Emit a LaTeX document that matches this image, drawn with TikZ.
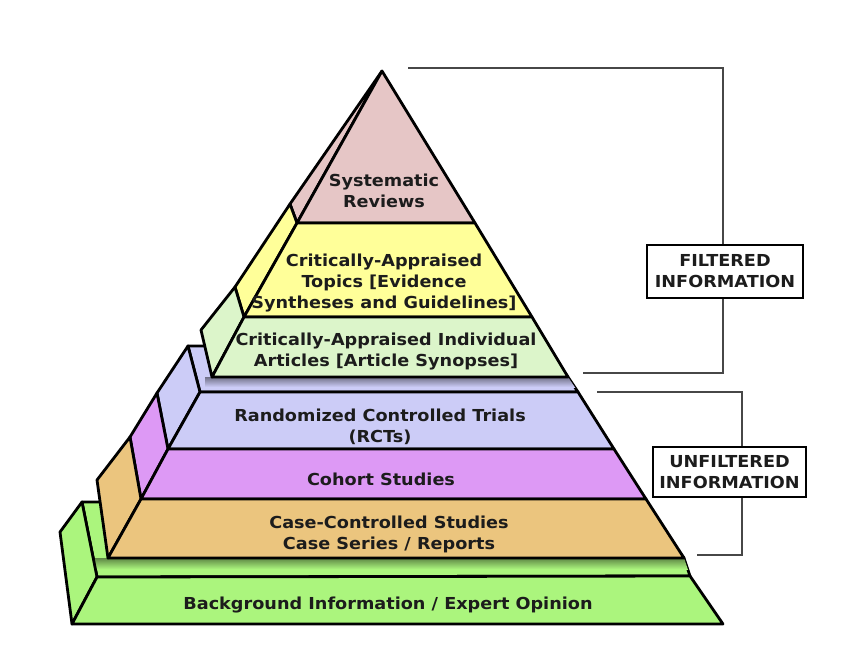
\documentclass[tikz,border=0pt]{standalone}
\usepackage{fontspec}
\newfontfamily\vfont{DejaVu Sans}[FakeStretch=1.07]
\definecolor{pinkc}{RGB}{230,198,198}
\definecolor{yelc}{RGB}{255,255,153}
\definecolor{ltgc}{RGB}{220,245,202}
\definecolor{lavc}{RGB}{204,204,247}
\definecolor{violc}{RGB}{221,153,245}
\definecolor{tanc}{RGB}{235,197,126}
\definecolor{bgc}{RGB}{171,245,125}
\definecolor{txtc}{RGB}{28,28,28}
\begin{document}
\begin{tikzpicture}[x=1pt,y=-1pt,
  face/.style={draw=black, line width=2.8pt, line join=round},
  lbl/.style={font=\vfont\bfseries\fontsize{16.5}{21}\selectfont, text=txtc, align=center, inner sep=0pt},
  tagbox/.style={draw=black, line width=2.8pt, fill=white, font=\vfont\bfseries\fontsize{16.5}{21}\selectfont, text=txtc, align=center, inner sep=0pt},
  brk/.style={draw=black!72, line width=1.8pt}]
\useasboundingbox (0,0) rectangle (865,672);
% ---------- coordinates ----------
% top tier
\coordinate (A) at (382,71);
\coordinate (TO1) at (290,204);
\coordinate (TF1) at (297,223);
\coordinate (TR1) at (475,223);
\coordinate (TO2) at (235,287);
\coordinate (TF2) at (244,317);
\coordinate (TR2) at (532,317);
\coordinate (TO3) at (201,330);
\coordinate (TF3) at (212,377);
\coordinate (TR3) at (568,377);
% middle tier
\coordinate (MB) at (188,346);
\coordinate (MBR) at (545,346);
\coordinate (MF1) at (200,392);
\coordinate (MR1) at (578,392);
\coordinate (MO1) at (157,393);
\coordinate (MF2) at (168,449);
\coordinate (MR2) at (614,449);
\coordinate (MO2) at (130,437);
\coordinate (MF3) at (141,499);
\coordinate (MR3) at (646,499);
\coordinate (MO3) at (97,480);
\coordinate (MF4) at (108,558);
\coordinate (MR4) at (684,558);
% bottom tier
\coordinate (BB) at (82,502);
\coordinate (BBR) at (640,502);
\coordinate (BF1) at (97,577);
\coordinate (BR1) at (690,576);
\coordinate (BO) at (60,532);
\coordinate (BF2) at (72,624);
\coordinate (BR2) at (723,624);
% ---------- bottom tier ----------
\filldraw[face, fill=bgc] (BB) -- (BF1) -- (BR1) -- (MR4) -- (BBR) -- cycle;
\begin{scope}
  \clip (BB) -- (BF1) -- (BR1) -- (MR4) -- (BBR) -- cycle;
  \shade[top color=black!45!bgc, bottom color=bgc] (95,558) rectangle (692,569);
\end{scope}
\filldraw[face, fill=bgc] (BB) -- (BF1) -- (BF2) -- (BO) -- cycle;
\filldraw[face, fill=bgc] (BF1) -- (BR1) -- (BR2) -- (BF2) -- cycle;
% ---------- middle tier ----------
\filldraw[face, fill=lavc] (MB) -- (MF1) -- (MR1) -- (TR3) -- (MBR) -- cycle;
\begin{scope}
  \clip (MB) -- (MF1) -- (MR1) -- (TR3) -- (MBR) -- cycle;
  \shade[top color=black!45!lavc, bottom color=lavc] (205,377) rectangle (580,387);
\end{scope}
\filldraw[face, fill=lavc] (MB) -- (MF1) -- (MF2) -- (MO1) -- cycle;
\filldraw[face, fill=violc] (MO1) -- (MF2) -- (MF3) -- (MO2) -- cycle;
\filldraw[face, fill=tanc] (MO2) -- (MF3) -- (MF4) -- (MO3) -- cycle;
\filldraw[face, fill=lavc] (MF1) -- (MR1) -- (MR2) -- (MF2) -- cycle;
\filldraw[face, fill=violc] (MF2) -- (MR2) -- (MR3) -- (MF3) -- cycle;
\filldraw[face, fill=tanc] (MF3) -- (MR3) -- (MR4) -- (MF4) -- cycle;
% ---------- top tier ----------
\filldraw[face, fill=pinkc] (A) -- (TF1) -- (TO1) -- cycle;
\filldraw[face, fill=yelc] (TO1) -- (TF1) -- (TF2) -- (TO2) -- cycle;
\filldraw[face, fill=ltgc] (TO2) -- (TF2) -- (TF3) -- (TO3) -- cycle;
\filldraw[face, fill=pinkc] (A) -- (TR1) -- (TF1) -- cycle;
\filldraw[face, fill=yelc] (TF1) -- (TR1) -- (TR2) -- (TF2) -- cycle;
\filldraw[face, fill=ltgc] (TF2) -- (TR2) -- (TR3) -- (TF3) -- cycle;
% ---------- labels ----------
\node[lbl] (sr) at (384,191) {Systematic\\Reviews};
\node[lbl] (cat) at (384,283) {Critically-Appraised\\Topics [Evidence\\Syntheses and Guidelines]};
\node[lbl] (caia) at (386,352) {Critically-Appraised Individual\\Articles [Article Synopses]};
\node[lbl] (rct) at (380,427) {Randomized Controlled Trials\\(RCTs)};
\node[lbl] (coh) at (381,479) {Cohort Studies};
\node[lbl] (cc) at (389,534) {Case-Controlled Studies\\Case Series / Reports};
\node[lbl] (bg) at (388,605) {Background Information / Expert Opinion};
% ---------- brackets ----------
\node[tagbox, minimum width=156pt, minimum height=53pt] (ftag) at (725,271.5) {FILTERED\\INFORMATION};
\node[tagbox, minimum width=153pt, minimum height=50pt] (utag) at (729.5,472) {UNFILTERED\\INFORMATION};
\coordinate (f1) at (408,68);
\coordinate (f2) at (723,68);
\coordinate (f3) at (723,373);
\coordinate (f4) at (583,373);
\draw[brk] (f1) -- (f2) -- (ftag.north -| f2);
\draw[brk] (ftag.south -| f3) -- (f3) -- (f4);
\coordinate (u1) at (597,392);
\coordinate (u2) at (742,392);
\coordinate (u3) at (742,555);
\coordinate (u4) at (697,555);
\draw[brk] (u1) -- (u2) -- (utag.north -| u2);
\draw[brk] (utag.south -| u3) -- (u3) -- (u4);
\end{tikzpicture}
\end{document}
